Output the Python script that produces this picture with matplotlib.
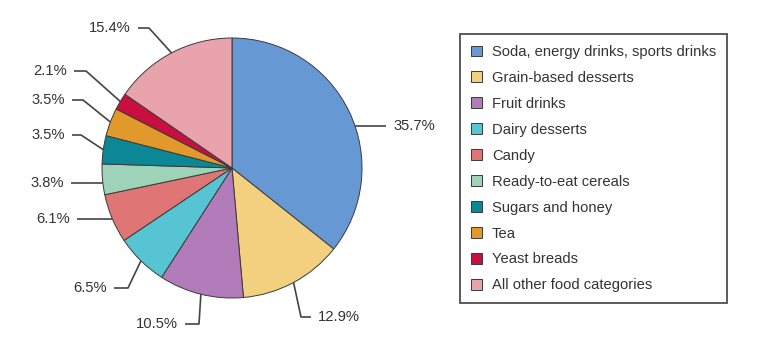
import numpy as np
import matplotlib
matplotlib.use("Agg")
import matplotlib.pyplot as plt

plt.rcParams['font.family'] = ['Liberation Sans', 'DejaVu Sans']

categories = ['Soda, energy drinks, sports drinks', 'Grain-based desserts', 'Fruit drinks',
              'Dairy desserts', 'Candy', 'Ready-to-eat cereals', 'Sugars and honey', 'Tea',
              'Yeast breads', 'All other food categories']
shares = [35.7, 12.9, 10.5, 6.5, 6.1, 3.8, 3.5, 3.5, 2.1, 15.4]
colors = ['#6699d4', '#f3d080', '#b27bb9', '#56c4d3', '#e07576', '#9fd3b9',
          '#0b8795', '#e0992a', '#c90f40', '#e8a3ad']

W, H = 769, 337
cx, cy, r = 232, H - 168, 130

# label placement in pixel space (y measured from top):
# text x, text y, side (+1 = text on the right), elbow x (None = straight line)
label_pos = [
    (393, 126, +1, None),
    (318, 317, +1, 301),
    (178, 324, -1, 199),
    (107, 288, -1, 128),
    (70, 219, -1, None),
    (64, 183, -1, None),
    (65, 135, -1, 81),
    (65, 100, -1, 83),
    (67, 71, -1, 86),
    (131, 28, -1, 149),
]

fig = plt.figure(figsize=(W / 100, H / 100), dpi=100)
ax = fig.add_axes([0, 0, 1, 1])

wedges, _ = ax.pie(shares, colors=colors, startangle=90, counterclock=False,
                   center=(cx, cy), radius=r, frame=True,
                   wedgeprops=dict(edgecolor='#3a3a3a', linewidth=0.7))
ax.set_xlim(0, W)
ax.set_ylim(0, H)
ax.set_aspect('equal')
ax.axis('off')

line_kw = dict(color='#444444', linewidth=1.2, solid_capstyle='butt')
for w, val, (tx, ty, side, ex) in zip(wedges, shares, label_pos):
    y = H - ty
    if side > 0:
        x0 = tx - 7
        ax.text(tx, y, f'{val}%', ha='left', va='center', fontsize=10.6, color='#333333')
    else:
        x0 = tx + 7
        ax.text(tx, y, f'{val}%', ha='right', va='center', fontsize=10.6, color='#333333')
    if ex is None:
        # straight leader hitting the rim at the label's height
        dx = np.sqrt(r ** 2 - (y - cy) ** 2)
        ax_x = cx + side * dx
        ax.plot([x0, ax_x], [y, y], **line_kw)
    else:
        ang = np.deg2rad((w.theta1 + w.theta2) / 2)
        px, py = cx + r * np.cos(ang), cy + r * np.sin(ang)
        ax.plot([x0, ex, px], [y, y, py], **line_kw)

leg = fig.legend(wedges, categories, loc='upper left',
                 bbox_to_anchor=(460 / W, 1 - 34 / H), fontsize=10.6,
                 frameon=True, fancybox=False, edgecolor='#222222',
                 labelspacing=0.81, handlelength=0.75, handleheight=0.75,
                 handletextpad=0.68, borderpad=0.75, borderaxespad=0)
leg.get_frame().set_linewidth(1.3)
for t in leg.get_texts():
    t.set_color('#333333')

fig.savefig('out.png', dpi=100)
